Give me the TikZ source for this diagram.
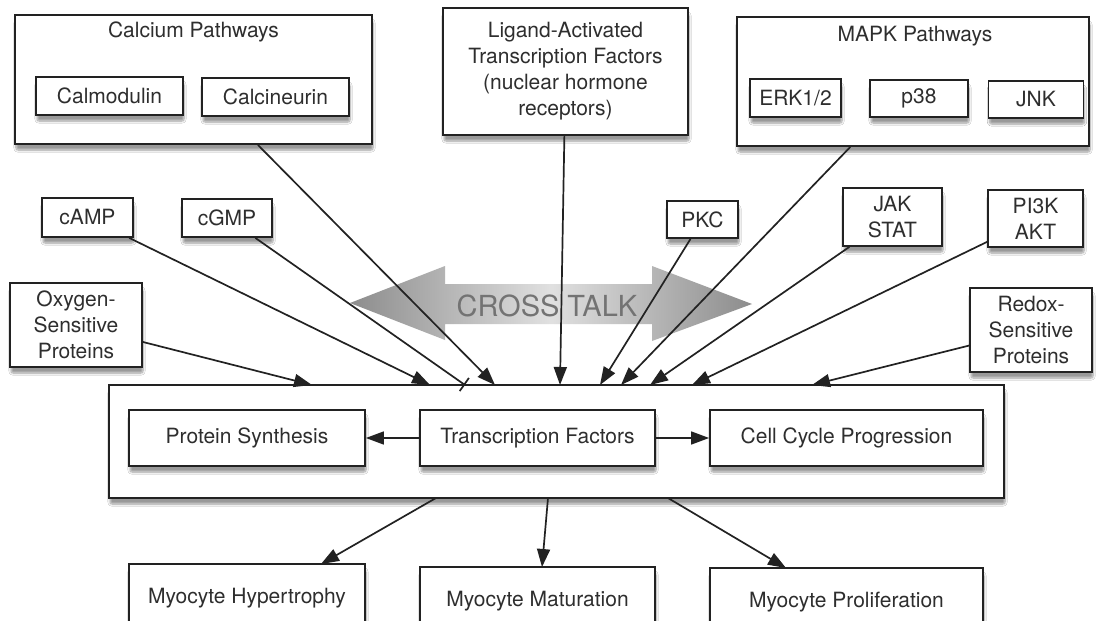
\documentclass[tikz,border=0pt]{standalone}
\usepackage{fontspec}
\setmainfont{TeX Gyre Heros}
\usetikzlibrary{arrows.meta,shadows.blur}
\definecolor{linec}{HTML}{222222}
\definecolor{textc}{HTML}{2E2E2E}
\begin{document}
\begin{tikzpicture}[x=1pt,y=-1pt,
  box/.style={draw=linec, line width=1.8pt, fill=white, inner sep=0pt, align=center,
    font=\fontsize{21}{26}\selectfont, text=textc,
    blur shadow={shadow xshift=1pt, shadow yshift=-6pt, shadow blur steps=8, shadow blur extra rounding=2pt, shadow opacity=40}},
  title/.style={inner sep=0pt, anchor=base, font=\fontsize{21}{26}\selectfont, text=textc},
  conn/.style={draw=linec, line width=1.7pt, -{Triangle[length=18pt,width=13pt]}},
  inh/.style={draw=linec, line width=1.7pt, -{Bar[width=16pt]}},
  crossarrow/.style={left color=black!45, right color=black!45, middle color=black!12},
  crosstext/.style={font=\fontsize{29}{30}\selectfont, text=black!55}
]
\useasboundingbox (0,0) rectangle (1096,621);
\fill[white] (0,0) rectangle (1096,621);
\clip (0,0) rectangle (1096,621);

% cross talk double arrow
\shade[crossarrow] (350,303) -- (445,266) -- (445,284) -- (652,284) -- (652,266) -- (752,304)
  -- (652,341) -- (652,324) -- (445,324) -- (445,340) -- cycle;
\node[crosstext] (ct) at (547,306) {CROSS TALK};

% top groups
\node[box, minimum width=357pt, minimum height=129pt] (calcium) at (193.5,79.5) {};
\node[title] (calT) at (193.5,37) {Calcium Pathways};
\node[box, minimum width=147pt, minimum height=38pt] (calmod) at (109.5,96) {Calmodulin};
\node[box, minimum width=147pt, minimum height=38pt] (calcin) at (275.5,97) {Calcineurin};

\node[box, minimum width=245pt, minimum height=127pt] (ligand) at (565.5,71.5)
  {Ligand-Activated\\Transcription Factors\\(nuclear hormone\\receptors)};

\node[box, minimum width=352pt, minimum height=129pt] (mapk) at (913,81.5) {};
\node[title] (mapkT) at (915,41) {MAPK Pathways};
\node[box, minimum width=91pt, minimum height=38pt] (erk) at (795.5,98) {ERK1/2};
\node[box, minimum width=98pt, minimum height=37pt] (p38) at (919,98.5) {p38};
\node[box, minimum width=95pt, minimum height=37pt] (jnk) at (1036,99.5) {JNK};

% second row
\node[box, minimum width=91pt, minimum height=39pt] (camp) at (87.5,217.5) {cAMP};
\node[box, minimum width=90pt, minimum height=38pt] (cgmp) at (227,218) {cGMP};
\node[box, minimum width=71pt, minimum height=37pt] (pkc) at (702.5,219.5) {PKC};
\node[box, minimum width=99pt, minimum height=58pt] (jak) at (892.5,217) {JAK\\STAT};
\node[box, minimum width=95pt, minimum height=57pt] (pi3k) at (1035.5,218.5) {PI3K\\AKT};
\node[box, minimum width=132pt, minimum height=84pt] (oxy) at (76,325) {Oxygen-\\Sensitive\\Proteins};
\node[box, minimum width=122pt, minimum height=84pt] (redox) at (1031,330) {Redox-\\Sensitive\\Proteins};

% central box
\node[box, minimum width=895pt, minimum height=113pt] (big) at (556.5,441.5) {};
\node[box, minimum width=236pt, minimum height=56pt] (ps) at (247,438) {Protein Synthesis};
\node[box, minimum width=235pt, minimum height=56pt] (tf) at (537.5,438) {Transcription Factors};
\node[box, minimum width=273pt, minimum height=56pt] (cc) at (846.5,438) {Cell Cycle Progression};

% bottom row
\node[box, minimum width=236pt, minimum height=68pt] (hyp) at (247,598) {Myocyte Hypertrophy};
\node[box, minimum width=235pt, minimum height=68pt] (mat) at (537.5,601) {Myocyte Maturation};
\node[box, minimum width=273pt, minimum height=68pt] (pro) at (846.5,602) {Myocyte Proliferation};

% arrow end points on the central box
\coordinate (tOxy) at (312,385);
\coordinate (tCamp) at (430,385);
\coordinate (tCgmp) at (465,385);
\coordinate (tCa) at (495,385);
\coordinate (tLig) at (560,385);
\coordinate (tPkc) at (600,385);
\coordinate (tMapk) at (621,385);
\coordinate (tJak) at (650,385);
\coordinate (tPi) at (692,385);
\coordinate (tRedox) at (812,385);
\coordinate (bH) at (436,498);
\coordinate (bM) at (548,498);
\coordinate (bP) at (668,498);
\coordinate (hH) at (321,564);
\coordinate (hM) at (542,567);
\coordinate (hP) at (786,568);

% connectors
\draw[conn] (oxy) -- (tOxy);
\draw[conn] (camp) -- (tCamp);
\draw[inh] (cgmp) -- (tCgmp);
\draw[conn] (calcium) -- (tCa);
\draw[conn] (ligand) -- (tLig);
\draw[conn] (pkc) -- (tPkc);
\draw[conn] (mapk) -- (tMapk);
\draw[conn] (jak) -- (tJak);
\draw[conn] (pi3k) -- (tPi);
\draw[conn] (redox) -- (tRedox);
\draw[conn] (tf.west) -- (ps.east);
\draw[conn] (tf.east) -- (cc.west);
\draw[conn] (bH) -- (hH);
\draw[conn] (bM) -- (hM);
\draw[conn] (bP) -- (hP);
\end{tikzpicture}
\end{document}
